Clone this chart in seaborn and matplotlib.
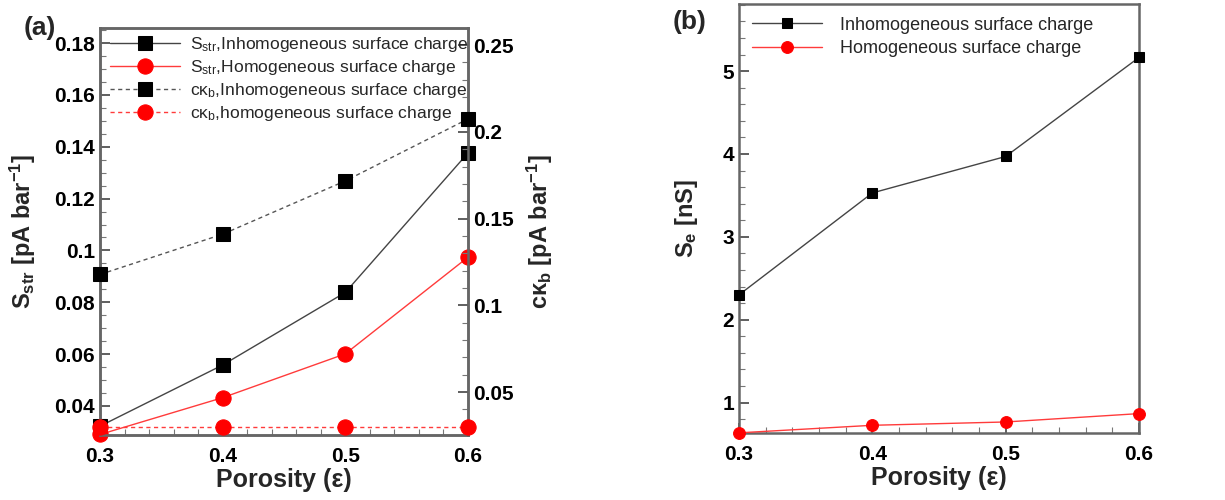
import numpy as np
import pandas as pd
import matplotlib
matplotlib.use("Agg")
import matplotlib.pyplot as plt
import seaborn as sns
from matplotlib.ticker import MultipleLocator, FixedLocator

# ---------------- data ----------------
porosity = [0.3, 0.4, 0.5, 0.6]
s_str_inhom = [0.0322, 0.0558, 0.0838, 0.1376]
s_str_hom = [0.0290, 0.0432, 0.0601, 0.0974]
ck_inhom = [0.1178, 0.1410, 0.1717, 0.2074]
ck_hom = [0.0298, 0.0298, 0.0298, 0.0298]
se_inhom = [2.30, 3.53, 3.97, 5.165]
se_hom = [0.635, 0.726, 0.766, 0.867]

left_ticks_a = [0.04, 0.06, 0.08, 0.1, 0.12, 0.14, 0.16, 0.18]
right_ticks_a = [0.05, 0.1, 0.15, 0.2, 0.25]
ticks_b = [1, 2, 3, 4, 5]
x_ticks = [0.3, 0.4, 0.5, 0.6]

sns.set_style("ticks")
plt.rcParams['font.family'] = ['Liberation Sans', 'DejaVu Sans']
plt.rcParams['mathtext.fontset'] = 'custom'
plt.rcParams['mathtext.rm'] = 'Liberation Sans'
plt.rcParams['mathtext.it'] = 'Liberation Sans:italic'
plt.rcParams['mathtext.bf'] = 'Liberation Sans:bold'

SP = '#666666'
fig = plt.figure(figsize=(12.25, 5.0), dpi=100)
ax = fig.add_axes([100/1225, 1-435/500, 368/1225, 407/500])
ax2 = ax.twinx()
bx = fig.add_axes([739/1225, 1-433/500, 400/1225, 429/500])

df = pd.DataFrame({'x': porosity, 's_in': s_str_inhom, 's_ho': s_str_hom,
                   'c_in': ck_inhom, 'c_ho': ck_hom,
                   'e_in': se_inhom, 'e_ho': se_hom})

blk_line = '#444444'
red_line = '#ff3b3b'

sns.lineplot(data=df, x='x', y='s_in', ax=ax, color=blk_line, lw=1.0, marker='s',
             markersize=10, markerfacecolor='black', markeredgecolor='black',
             label=r'S$_{\mathregular{str}}$,Inhomogeneous surface charge', clip_on=False, zorder=5)
sns.lineplot(data=df, x='x', y='s_ho', ax=ax, color=red_line, lw=1.0, marker='o',
             markersize=11, markerfacecolor='red', markeredgecolor='red',
             label=r'S$_{\mathregular{str}}$,Homogeneous surface charge', clip_on=False, zorder=5)
sns.lineplot(data=df, x='x', y='c_in', ax=ax2, color='#555555', lw=1.0, linestyle=(0, (3, 2.5)),
             marker='s', markersize=10, markerfacecolor='black', markeredgecolor='black',
             label=r'cκ$_{\mathregular{b}}$,Inhomogeneous surface charge', clip_on=False, zorder=5)
sns.lineplot(data=df, x='x', y='c_ho', ax=ax2, color=red_line, lw=1.0, linestyle=(0, (3, 2.5)),
             marker='o', markersize=11, markerfacecolor='red', markeredgecolor='red',
             label=r'cκ$_{\mathregular{b}}$,homogeneous surface charge', clip_on=False, zorder=5)

sns.lineplot(data=df, x='x', y='e_in', ax=bx, color=blk_line, lw=1.0, marker='s',
             markersize=7, markerfacecolor='black', markeredgecolor='black',
             label='Inhomogeneous surface charge', clip_on=False, zorder=5)
sns.lineplot(data=df, x='x', y='e_ho', ax=bx, color=red_line, lw=1.0, marker='o',
             markersize=8.5, markerfacecolor='red', markeredgecolor='red',
             label='Homogeneous surface charge', clip_on=False, zorder=5)

# axes limits & ticks
for a in (ax, ax2, bx):
    a.set_xlim(0.3, 0.6)
    a.xaxis.set_major_locator(FixedLocator(x_ticks))
    a.xaxis.set_minor_locator(MultipleLocator(0.02))
    for s in a.spines.values():
        s.set_visible(True)
        s.set_color(SP)
        s.set_linewidth(1.8)

ax.set_ylim(0.0288, 0.1858)
ax.yaxis.set_major_locator(FixedLocator(left_ticks_a))
ax.yaxis.set_minor_locator(MultipleLocator(0.005))
ax.set_yticklabels(['0.04', '0.06', '0.08', '0.1', '0.12', '0.14', '0.16', '0.18'])
ax2.set_ylim(0.0253, 0.2598)
ax2.yaxis.set_major_locator(FixedLocator(right_ticks_a))
ax2.yaxis.set_minor_locator(MultipleLocator(0.01))
ax2.set_yticklabels(['0.05', '0.1', '0.15', '0.2', '0.25'])
bx.set_ylim(0.633, 5.81)
bx.yaxis.set_major_locator(FixedLocator(ticks_b))
bx.yaxis.set_minor_locator(MultipleLocator(0.2))
bx.set_yticklabels(['1', '2', '3', '4', '5'])

xlabels = ['0.3', '0.4', '0.5', '0.6']
ax.set_xticklabels(xlabels)
bx.set_xticklabels(xlabels)

tick_kw = dict(direction='in', colors='#444444', labelcolor='black', labelsize=15)
ax.tick_params(axis='both', which='major', length=7, width=1.2, left=True, right=False, top=False, **tick_kw)
ax.tick_params(axis='both', which='minor', length=4, width=0.8, direction='in', colors='#777777', left=True, right=False, top=False)
ax2.tick_params(axis='y', which='major', length=7, width=1.2, right=True, left=False, **tick_kw)
ax2.tick_params(axis='y', which='minor', length=4, width=0.8, direction='in', colors='#777777', right=True, left=False)
ax2.tick_params(axis='x', which='both', bottom=False, top=False, labelbottom=False)
bx.tick_params(axis='both', which='major', length=7, width=1.2, left=True, right=False, top=False, **tick_kw)
bx.tick_params(axis='both', which='minor', length=4, width=0.8, direction='in', colors='#777777', left=True, right=False, top=False)
ax.tick_params(axis='x', which='major', pad=9)
bx.tick_params(axis='x', which='major', pad=9)

for a in (ax, ax2, bx):
    for lab in a.get_xticklabels() + a.get_yticklabels():
        lab.set_fontweight('bold')

ax.set_xlabel('Porosity (ε)', fontsize=18, fontweight='bold', labelpad=1)
bx.set_xlabel('Porosity (ε)', fontsize=18, fontweight='bold', labelpad=1)
ax.set_ylabel(r'S$_{\mathregular{str}}$ [pA bar$^{\mathregular{-1}}$]', fontsize=17, fontweight='bold', labelpad=12)
ax2.set_ylabel(r'cκ$_{\mathregular{b}}$ [pA bar$^{\mathregular{-1}}$]', fontsize=17, fontweight='bold', labelpad=8)
bx.set_ylabel(r'S$_{\mathregular{e}}$ [nS]', fontsize=17, fontweight='bold', labelpad=16)

# legends
ax.get_legend().remove()
ax2.get_legend().remove()
h1, l1 = ax.get_legend_handles_labels()
h2, l2 = ax2.get_legend_handles_labels()
ax2.legend(h1 + h2, l1 + l2, loc='upper left', bbox_to_anchor=(-0.005, 1.012), frameon=False,
           fontsize=12.6, handlelength=4.0, handletextpad=0.55, labelspacing=0.22,
           borderaxespad=0.3)
bx.legend(loc='upper left', bbox_to_anchor=(0.0, 1.0), frameon=False, fontsize=13,
          handlelength=3.9, handletextpad=1.0, labelspacing=0.35, borderaxespad=0.3)

fig.text(40/1225, 1-28/500, '(a)', fontsize=19, fontweight='bold', ha='center', va='center')
fig.text(690/1225, 1-22/500, '(b)', fontsize=19, fontweight='bold', ha='center', va='center')

fig.savefig('out.png', dpi=100)
